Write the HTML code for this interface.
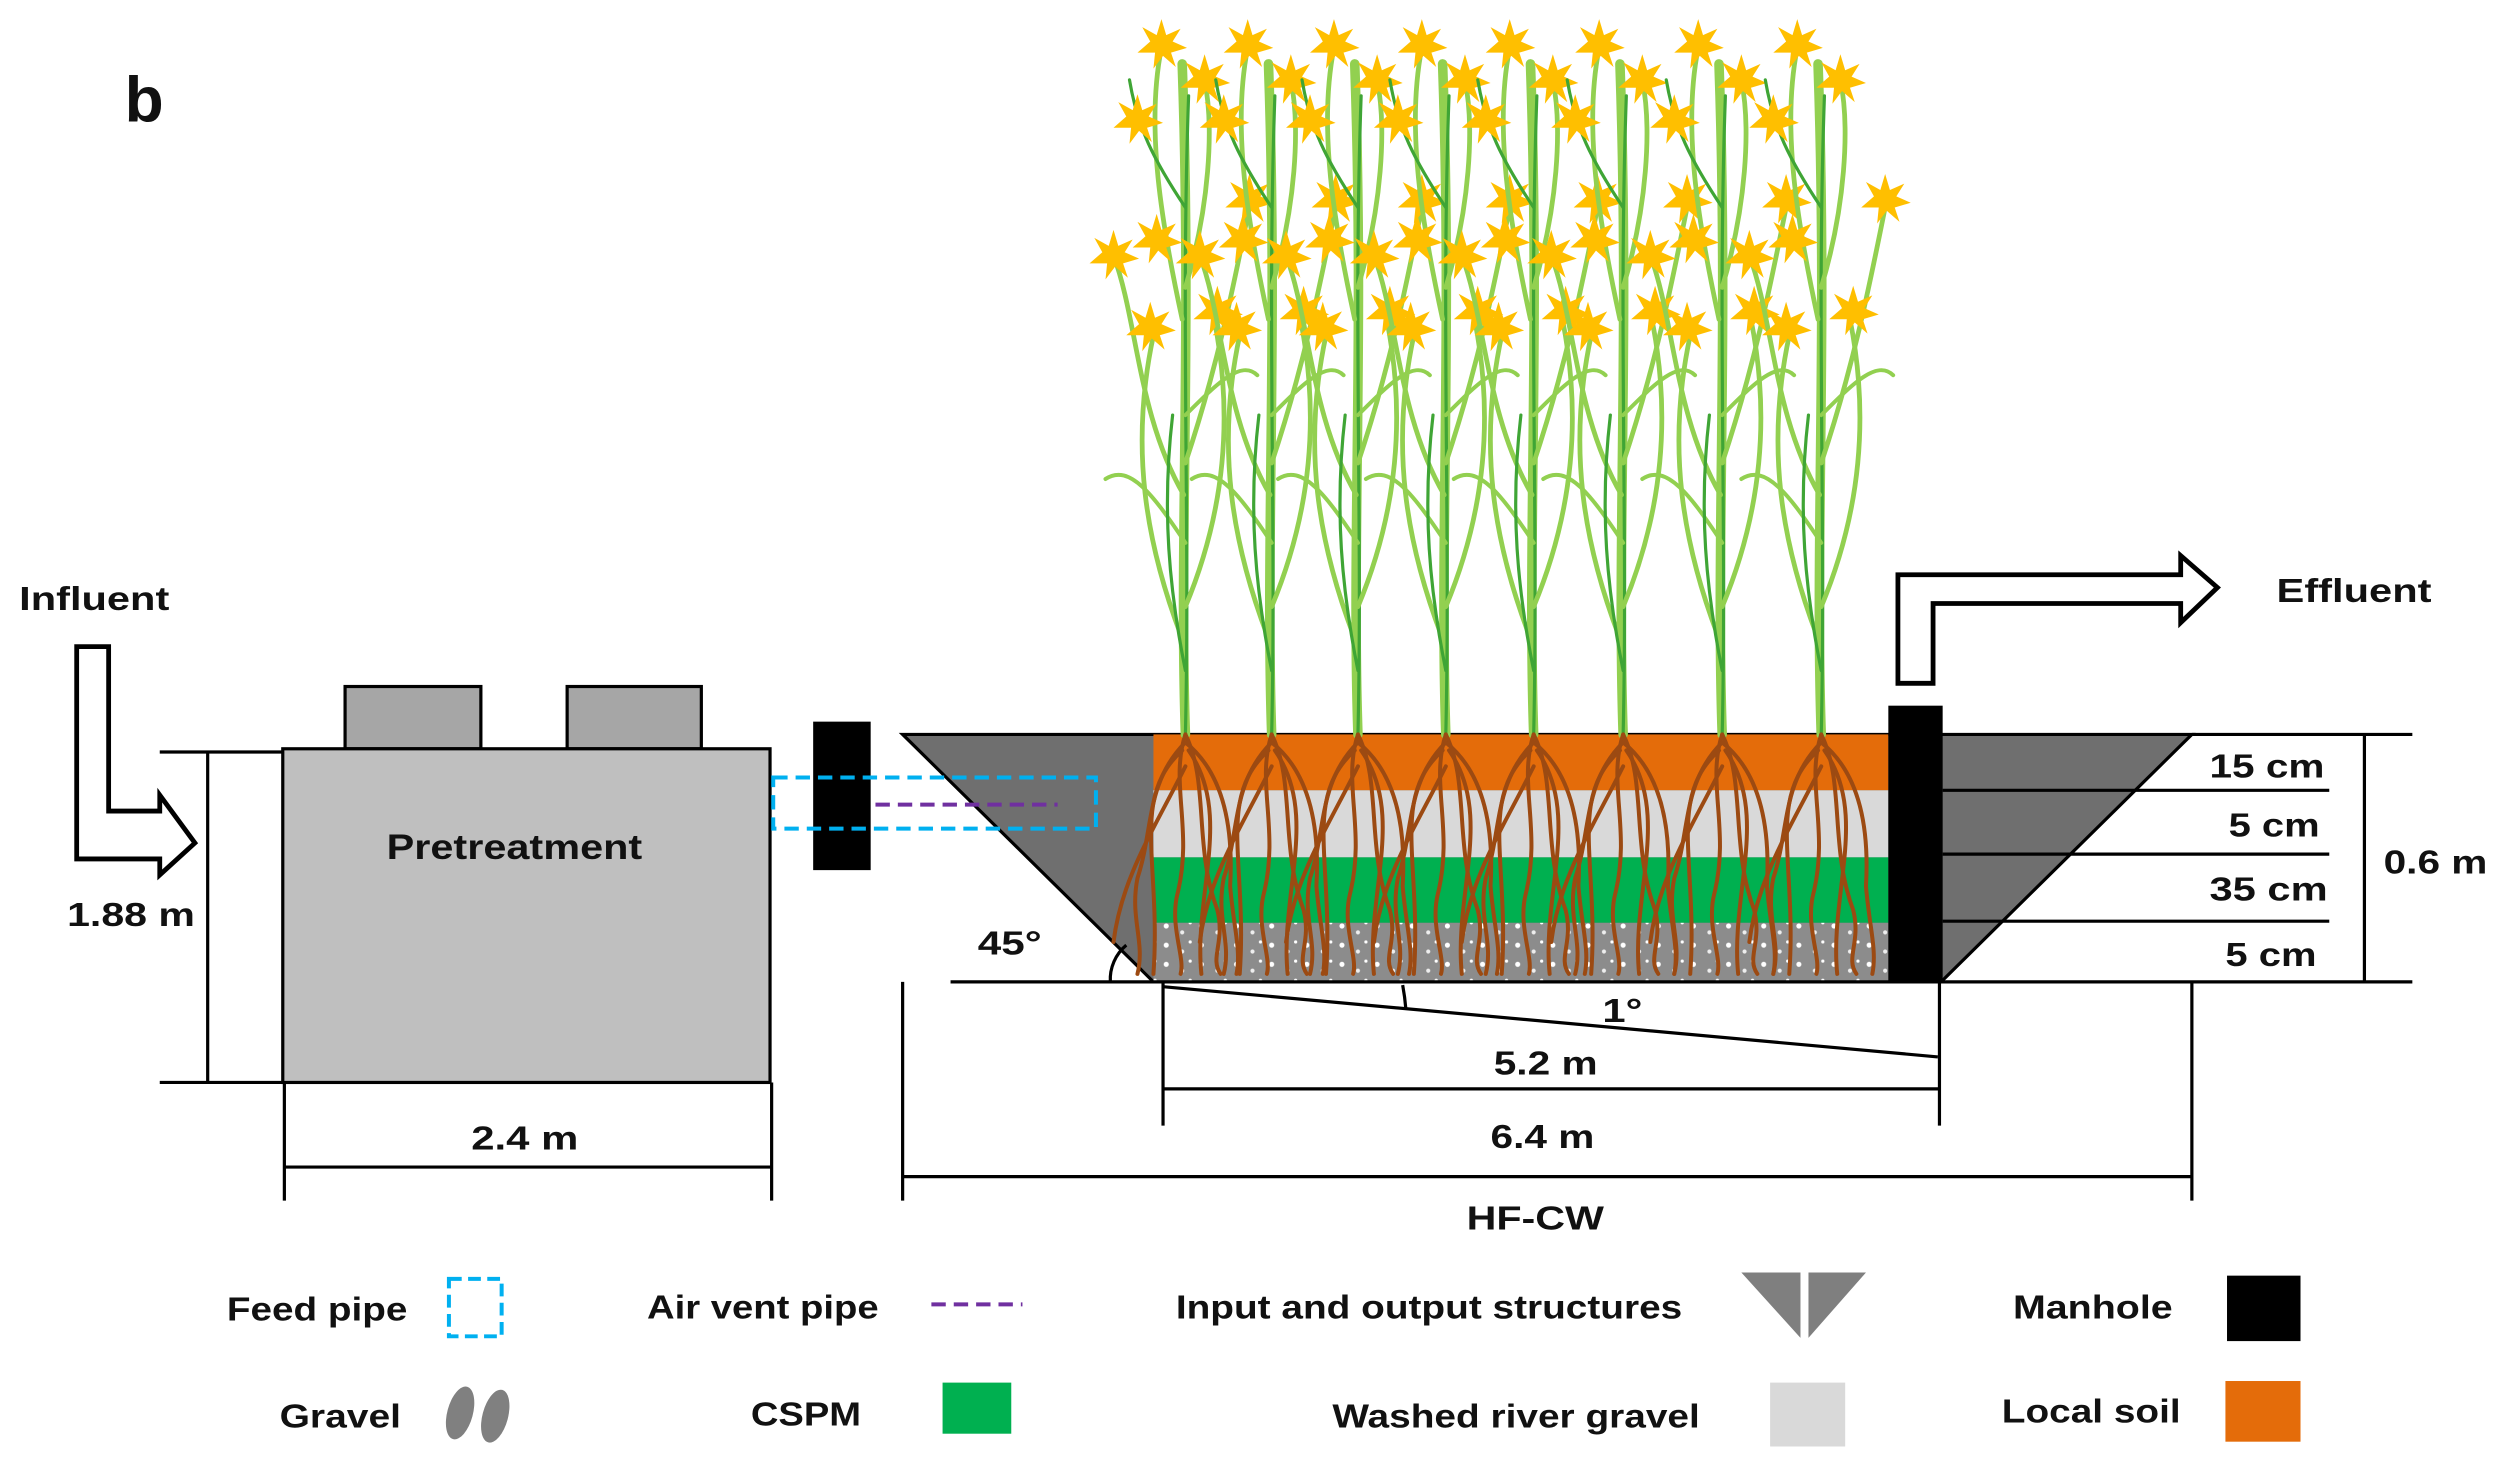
<!DOCTYPE html>
<html><head><meta charset="utf-8"><style>
html,body{margin:0;padding:0;background:#fff;}
svg{display:block;}
text{font-family:"Liberation Sans",Arial,sans-serif;font-weight:bold;fill:#111;}
</style></head><body>
<svg width="2505" height="1480" viewBox="0 0 1568 927" preserveAspectRatio="none" xmlns="http://www.w3.org/2000/svg">
<defs>
<g id="flower">
<polygon points="0,-16 3,-6 12,-10 7,-2 16,2 6,5 9,14 1,7 -5,15 -4,5 -15,5 -7,-2 -12,-11 -3,-6" fill="#ffbf00"/>
</g>
<g id="plant">
<g fill="none" stroke-linecap="round">
<path d="M0,0 C-4,-120 4,-250 -2,-420" stroke="#92d050" stroke-width="6"/>
<path d="M0,0 C3,-130 -3,-260 2,-400" stroke="#3fa535" stroke-width="2"/>
<path d="M-2,-60 C-25,-120 -35,-180 -20,-250" stroke="#92d050" stroke-width="3"/>
<path d="M0,-80 C25,-140 30,-200 18,-260" stroke="#92d050" stroke-width="3"/>
<path d="M-1,-150 C-30,-200 -30,-260 -45,-300" stroke="#92d050" stroke-width="3"/>
<path d="M0,-170 C20,-230 30,-280 40,-330" stroke="#92d050" stroke-width="3"/>
<path d="M-2,-260 C-15,-320 -25,-380 -15,-430" stroke="#92d050" stroke-width="3"/>
<path d="M0,-280 C15,-330 18,-380 12,-410" stroke="#92d050" stroke-width="3"/>
<path d="M0,-120 C-20,-150 -35,-170 -50,-160" stroke="#92d050" stroke-width="2.5"/>
<path d="M0,-200 C20,-220 35,-235 45,-225" stroke="#92d050" stroke-width="2.5"/>
<path d="M0,-40 C-10,-90 -15,-140 -8,-200" stroke="#3fa535" stroke-width="2"/>
<path d="M0,-330 C-20,-360 -30,-380 -35,-410" stroke="#3fa535" stroke-width="2"/>
</g>
<use href="#flower" x="-15" y="-432"/>
<use href="#flower" x="12" y="-410"/>
<use href="#flower" x="-30" y="-385"/>
<use href="#flower" x="40" y="-335"/>
<use href="#flower" x="-18" y="-310"/>
<use href="#flower" x="20" y="-265"/>
<use href="#flower" x="-22" y="-255"/>
<use href="#flower" x="-45" y="-300"/>
<g fill="none" stroke="#9c4a12" stroke-width="2.5" stroke-linecap="round">
<path d="M0,0 C-10,30 5,60 -5,100 C-10,120 0,140 -3,150"/>
<path d="M0,0 C15,30 5,70 20,110 C25,130 15,140 22,150"/>
<path d="M0,5 C-25,30 -20,60 -30,90 C-35,115 -25,130 -30,150"/>
<path d="M0,5 C25,25 30,60 28,95 C30,120 35,135 32,150"/>
<path d="M-2,10 C-35,40 -15,80 -20,150"/>
<path d="M2,10 C30,50 5,100 10,150"/>
<path d="M0,20 C-20,60 -40,90 -45,130"/>
</g>
</g>
<pattern id="grv" width="22" height="12" patternUnits="userSpaceOnUse">
<rect width="22" height="12" fill="#8c8c8c"/>
<circle cx="4" cy="4" r="1.6" fill="#fff"/>
<circle cx="14" cy="8" r="1.3" fill="#eee"/>
<circle cx="19" cy="2" r="1" fill="#fff"/>
</pattern>
</defs>

<text x="78" y="76" font-size="40">b</text>

<text x="12" y="382" font-size="21" textLength="94" lengthAdjust="spacingAndGlyphs">Influent</text>
<path d="M48,405 H68 V508 H100 V498 L122,528 L100,548 V538 H48 Z" fill="#fff" stroke="#000" stroke-width="3"/>

<rect x="216" y="430" width="85" height="39" fill="#a6a6a6" stroke="#000" stroke-width="2"/>
<rect x="355" y="430" width="84" height="39" fill="#a6a6a6" stroke="#000" stroke-width="2"/>
<rect x="177" y="469" width="305" height="209" fill="#bfbfbf" stroke="#000" stroke-width="2"/>
<text x="242" y="538" font-size="22" textLength="160" lengthAdjust="spacingAndGlyphs">Pretreatment</text>
<g stroke="#000" stroke-width="2">
<line x1="100" y1="471" x2="177" y2="471"/><line x1="100" y1="678" x2="177" y2="678"/>
<line x1="130" y1="471" x2="130" y2="678"/>
<line x1="178" y1="678" x2="178" y2="752"/><line x1="483" y1="678" x2="483" y2="752"/>
<line x1="178" y1="731" x2="483" y2="731"/>
</g>
<text x="42" y="580" font-size="21" textLength="80" lengthAdjust="spacingAndGlyphs">1.88 m</text>
<text x="295" y="720" font-size="21" textLength="67" lengthAdjust="spacingAndGlyphs">2.4 m</text>

<rect x="509" y="452" width="36" height="93" fill="#000"/>

<polygon points="565,460 1372,460 1215,615 722,615" fill="#6f6f6f" stroke="#000" stroke-width="2"/>
<rect x="722" y="460" width="460" height="35" fill="#e46c0a"/>
<rect x="722" y="495" width="460" height="42" fill="#d9d9d9"/>
<rect x="722" y="537" width="460" height="41" fill="#00b050"/>
<rect x="722" y="578" width="460" height="37" fill="url(#grv)"/>
<rect x="484" y="487" width="202" height="32" fill="none" stroke="#00b0f0" stroke-width="2.5" stroke-dasharray="9,5"/>
<line x1="548" y1="504" x2="662" y2="504" stroke="#7030a0" stroke-width="2.5" stroke-dasharray="9,5"/>

<use href="#plant" x="742" y="460"/>
<use href="#plant" x="796" y="460"/>
<use href="#plant" x="850" y="460"/>
<use href="#plant" x="905" y="460"/>
<use href="#plant" x="960" y="460"/>
<use href="#plant" x="1016" y="460"/>
<use href="#plant" x="1078" y="460"/>
<use href="#plant" x="1140" y="460"/>

<rect x="1182" y="442" width="34" height="173" fill="#000"/>
<path d="M1188,428 V360 H1365 V348 L1388,368 L1365,390 V378 H1210 V428 Z" fill="#fff" stroke="#000" stroke-width="3"/>
<text x="1425" y="377" font-size="21" textLength="97" lengthAdjust="spacingAndGlyphs">Effluent</text>

<g stroke="#000" stroke-width="2" fill="none">
<line x1="1372" y1="460" x2="1510" y2="460"/>
<line x1="1216" y1="495" x2="1458" y2="495"/>
<line x1="1216" y1="535" x2="1458" y2="535"/>
<line x1="1216" y1="577" x2="1458" y2="577"/>
<line x1="1215" y1="615" x2="1510" y2="615"/>
<line x1="1480" y1="460" x2="1480" y2="615"/>
<line x1="595" y1="615" x2="1215" y2="615"/>
<line x1="728" y1="618" x2="1213" y2="662"/>
<path d="M878,617 A150,150 0 0 1 880,632"/>
<path d="M695,615 A28,28 0 0 1 705,592"/>
<line x1="728" y1="615" x2="728" y2="705"/><line x1="1214" y1="615" x2="1214" y2="705"/>
<line x1="728" y1="682" x2="1214" y2="682"/>
<line x1="565" y1="615" x2="565" y2="752"/><line x1="1372" y1="615" x2="1372" y2="752"/>
<line x1="565" y1="737" x2="1372" y2="737"/>
</g>
<text x="1383" y="487" font-size="21" textLength="72" lengthAdjust="spacingAndGlyphs">15 cm</text>
<text x="1395" y="524" font-size="21" textLength="57" lengthAdjust="spacingAndGlyphs">5 cm</text>
<text x="1383" y="564" font-size="21" textLength="74" lengthAdjust="spacingAndGlyphs">35 cm</text>
<text x="1393" y="605" font-size="21" textLength="57" lengthAdjust="spacingAndGlyphs">5 cm</text>
<text x="1492" y="547" font-size="21" textLength="65" lengthAdjust="spacingAndGlyphs">0.6 m</text>
<text x="612" y="598" font-size="21" textLength="40" lengthAdjust="spacingAndGlyphs">45°</text>
<text x="1003" y="640" font-size="21" textLength="25" lengthAdjust="spacingAndGlyphs">1°</text>
<text x="935" y="673" font-size="21" textLength="65" lengthAdjust="spacingAndGlyphs">5.2 m</text>
<text x="933" y="719" font-size="21" textLength="65" lengthAdjust="spacingAndGlyphs">6.4 m</text>
<text x="918" y="770" font-size="21" textLength="86" lengthAdjust="spacingAndGlyphs">HF-CW</text>

<text x="142" y="827" font-size="21" textLength="113" lengthAdjust="spacingAndGlyphs">Feed pipe</text>
<rect x="281" y="801" width="33" height="36" fill="none" stroke="#00b0f0" stroke-width="2.5" stroke-dasharray="8,4"/>
<text x="405" y="826" font-size="21" textLength="145" lengthAdjust="spacingAndGlyphs">Air vent pipe</text>
<line x1="583" y1="817" x2="640" y2="817" stroke="#7030a0" stroke-width="2.5" stroke-dasharray="9,5"/>
<text x="736" y="826" font-size="21" textLength="317" lengthAdjust="spacingAndGlyphs">Input and output structures</text>
<polygon points="1090,797 1127,797 1127,838" fill="#7f7f7f"/>
<polygon points="1132,797 1168,797 1132,838" fill="#7f7f7f"/>
<text x="1260" y="826" font-size="21" textLength="100" lengthAdjust="spacingAndGlyphs">Manhole</text>
<rect x="1394" y="799" width="46" height="41" fill="#000"/>

<text x="175" y="894" font-size="21" textLength="76" lengthAdjust="spacingAndGlyphs">Gravel</text>
<ellipse cx="288" cy="885" rx="8" ry="17" fill="#808080" transform="rotate(15 288 885)"/>
<ellipse cx="310" cy="887" rx="8" ry="17" fill="#808080" transform="rotate(15 310 887)"/>
<text x="470" y="893" font-size="21" textLength="69" lengthAdjust="spacingAndGlyphs">CSPM</text>
<rect x="590" y="866" width="43" height="32" fill="#00b050"/>
<text x="834" y="894" font-size="21" textLength="230" lengthAdjust="spacingAndGlyphs">Washed river gravel</text>
<rect x="1108" y="866" width="47" height="40" fill="#d9d9d9"/>
<text x="1253" y="891" font-size="21" textLength="112" lengthAdjust="spacingAndGlyphs">Local soil</text>
<rect x="1393" y="865" width="47" height="38" fill="#e46c0a"/>
</svg>
</body></html>
